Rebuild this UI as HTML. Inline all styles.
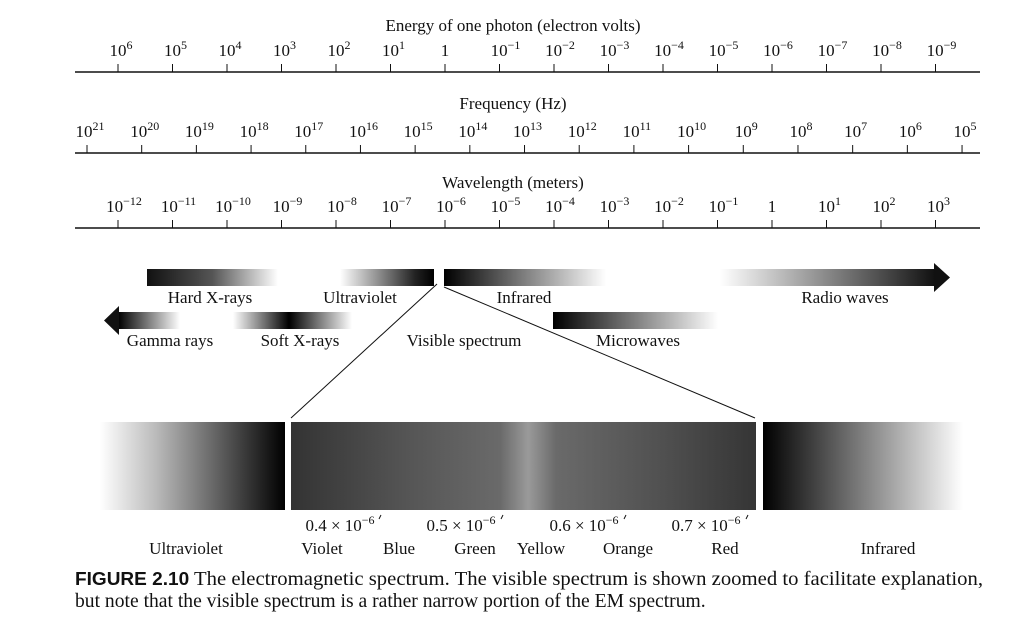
<!DOCTYPE html>
<html><head><meta charset="utf-8"><style>
body{margin:0;background:#fff;}
svg{display:block;font-family:"Liberation Serif",serif;}
</style></head><body>
<svg id="chart" width="1012" height="617" viewBox="0 0 1012 617" xmlns="http://www.w3.org/2000/svg">
<defs>
<linearGradient id="gDarkRight" x1="0" x2="1"><stop offset="0" stop-color="#fff"/><stop offset="0.3" stop-color="#bbb"/><stop offset="1" stop-color="#000"/></linearGradient>
<linearGradient id="gDarkLeft" x1="0" x2="1"><stop offset="0" stop-color="#000"/><stop offset="1" stop-color="#fff"/></linearGradient>
<linearGradient id="gHard" x1="0" x2="1"><stop offset="0" stop-color="#111"/><stop offset="0.5" stop-color="#555"/><stop offset="1" stop-color="#fff"/></linearGradient>
<linearGradient id="gSoft" x1="0" x2="1"><stop offset="0" stop-color="#fff"/><stop offset="0.47" stop-color="#000"/><stop offset="1" stop-color="#fff"/></linearGradient>
<linearGradient id="gUV" x1="0" x2="1"><stop offset="0" stop-color="#fff"/><stop offset="0.8" stop-color="#222"/><stop offset="1" stop-color="#000"/></linearGradient>
<linearGradient id="gRadio" x1="0" x2="1"><stop offset="0" stop-color="#fff"/><stop offset="1" stop-color="#111"/></linearGradient>
<linearGradient id="gGamma" x1="0" x2="1"><stop offset="0" stop-color="#000"/><stop offset="1" stop-color="#fff"/></linearGradient>
<linearGradient id="gVis" x1="0" x2="1">
<stop offset="0" stop-color="#333"/><stop offset="0.25" stop-color="#555"/><stop offset="0.45" stop-color="#6a6a6a"/><stop offset="0.51" stop-color="#9a9a9a"/><stop offset="0.57" stop-color="#6a6a6a"/><stop offset="0.8" stop-color="#505050"/><stop offset="1" stop-color="#353535"/></linearGradient>
</defs>
<g id="axes"></g>

<rect x="147" y="269" width="131" height="17" fill="url(#gHard)"/>
<rect x="340" y="269" width="94" height="17" fill="url(#gUV)"/>
<rect x="444" y="269" width="162" height="17" fill="url(#gDarkLeft)"/>
<g>
<rect x="720" y="269" width="215" height="17" fill="url(#gRadio)"/>
<polygon points="934,263 950,277.5 934,292" fill="#111"/>
</g>
<g>
<rect x="118" y="312" width="62" height="17" fill="url(#gGamma)"/>
<polygon points="119,306 104,320.5 119,335" fill="#111"/>
</g>
<rect x="233" y="312" width="119" height="17" fill="url(#gSoft)"/>
<rect x="553" y="312" width="165" height="17" fill="url(#gDarkLeft)"/>

<g font-size="17" text-anchor="middle" fill="#111">
<text x="210" y="303">Hard X-rays</text>
<text x="360" y="303">Ultraviolet</text>
<text x="524" y="303">Infrared</text>
<text x="845" y="303">Radio waves</text>
<text x="170" y="346">Gamma rays</text>
<text x="300" y="346">Soft X-rays</text>
<text x="464" y="346">Visible spectrum</text>
<text x="638" y="346">Microwaves</text>
</g>

<line x1="437" y1="284" x2="291" y2="418" stroke="#111" stroke-width="1"/>
<line x1="444" y1="287" x2="755" y2="418" stroke="#111" stroke-width="1"/>

<rect x="100" y="422" width="185" height="88" fill="url(#gDarkRight)"/>
<rect x="291" y="422" width="465" height="88" fill="url(#gVis)"/>
<rect x="763" y="422" width="200" height="88" fill="url(#gDarkLeft)"/>

<g font-size="17" text-anchor="middle" fill="#111">
<text x="340" y="531">0.4 × 10<tspan font-size="12" dy="-7">−6</tspan></text>
<text x="461" y="531">0.5 × 10<tspan font-size="12" dy="-7">−6</tspan></text>
<text x="584" y="531">0.6 × 10<tspan font-size="12" dy="-7">−6</tspan></text>
<text x="706" y="531">0.7 × 10<tspan font-size="12" dy="-7">−6</tspan></text>
<text x="186" y="554">Ultraviolet</text>
<text x="322" y="554">Violet</text>
<text x="399" y="554">Blue</text>
<text x="475" y="554">Green</text>
<text x="541" y="554">Yellow</text>
<text x="628" y="554">Orange</text>
<text x="725" y="554">Red</text>
<text x="888" y="554">Infrared</text>
</g>
<g stroke="#111" stroke-width="1">
<line x1="379" y1="519" x2="381" y2="515"/><line x1="501" y1="519" x2="503" y2="515"/><line x1="624" y1="519" x2="626" y2="515"/><line x1="746" y1="519" x2="748" y2="515"/>
</g>

<text x="75" y="585" font-size="19.6" fill="#111" textLength="908" lengthAdjust="spacingAndGlyphs"><tspan font-family="Liberation Sans,sans-serif" font-weight="bold" font-size="18">FIGURE 2.10</tspan>  The electromagnetic spectrum. The visible spectrum is shown zoomed to facilitate explanation,</text>
<text x="75" y="607" font-size="19.6" fill="#111">but note that the visible spectrum is a rather narrow portion of the EM spectrum.</text>
</svg>
<script>
const energyTicks = ["6","5","4","3","2","1","0","-1","-2","-3","-4","-5","-6","-7","-8","-9"];
const freqTicks = ["21","20","19","18","17","16","15","14","13","12","11","10","9","8","7","6","5"];
const waveTicks = ["-12","-11","-10","-9","-8","-7","-6","-5","-4","-3","-2","-1","0","1","2","3"];
const NS = "http://www.w3.org/2000/svg";
const g = document.getElementById("axes");
function el(tag, attrs, parent){const e=document.createElementNS(NS,tag);for(const k in attrs)e.setAttribute(k,attrs[k]);(parent||g).appendChild(e);return e;}
function axis(name, title, titleY, lineY, ticks, x0, step, labelY){
  const grp = el("g",{});
  
  
  const ln = el("line",{x1:75,x2:980,y1:lineY,y2:lineY,stroke:"#111","stroke-width":1.5},grp);
  
  
  const t = el("text",{x:513,y:titleY,"font-size":17,"text-anchor":"middle",fill:"#111"},grp);
  t.textContent = title;
  
  
  ticks.forEach((p,i)=>{
    const x = x0 + i*step;
    const tk = el("line",{x1:x,x2:x,y1:lineY-8,y2:lineY,stroke:"#111","stroke-width":1},grp);
    
    
    const lb = el("text",{x:x,y:labelY,"font-size":17,"text-anchor":"middle",fill:"#111"},grp);
    
    
    if(p==="0"){lb.textContent="1";}
    else{
      lb.appendChild(document.createTextNode("10"));
      const s=document.createElementNS(NS,"tspan");
      s.setAttribute("font-size","12");s.setAttribute("dy","-7");
      s.textContent=p.replace("-","−");lb.appendChild(s);
      lb.setAttribute("x", x+ (p.startsWith("-")?6:3));
    }
  });
}
axis("energy-axis","Energy of one photon (electron volts)",31,72,energyTicks,118,54.5,56);
axis("frequency-axis","Frequency (Hz)",109,153,freqTicks,87,54.69,137);
axis("wavelength-axis","Wavelength (meters)",188,228,waveTicks,118,54.5,212);
</script>
</body></html>
